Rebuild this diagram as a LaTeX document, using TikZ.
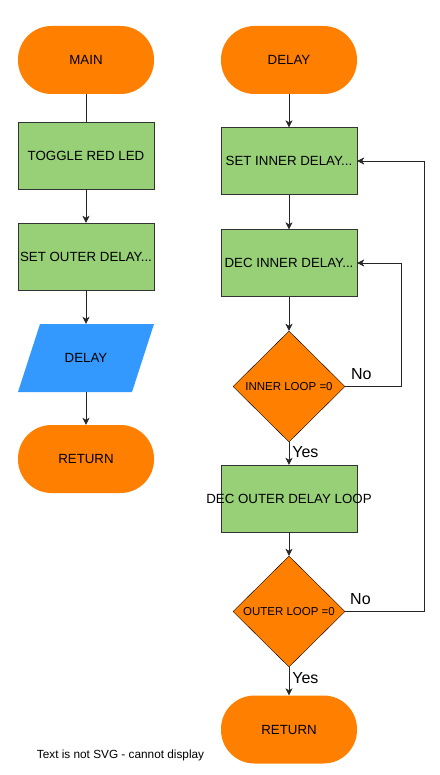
\documentclass[tikz,border=0pt]{standalone}
\usepackage{fontspec}
\setmainfont{Liberation Sans}
\usetikzlibrary{shapes.geometric, arrows.meta, positioning}
\newcommand{\spill}[1]{\makebox[0pt]{#1}}

\begin{document}
\begin{tikzpicture}[x=1pt, y=-1pt,
        terminal/.style={
                rectangle,
                rounded corners=33.5pt,
                fill=termorange,
                minimum width=136pt,
                minimum height=68pt,
                font=\fontsize{13.3}{15}\selectfont,
        },
        process/.style={
                rectangle,
                draw=black!80,
                fill=procgreen,
                minimum width=136pt,
                minimum height=67pt,
                font=\fontsize{13.3}{15}\selectfont,
        },
        iobox/.style={
                rectangle,
                minimum width=136pt,
                minimum height=68pt,
                inner sep=0pt,
                font=\fontsize{13.3}{15}\selectfont,
                path picture={
                    \fill[iblue] (path picture bounding box.south west)
                        -- ([xshift=-22pt]path picture bounding box.south east)
                        -- (path picture bounding box.north east)
                        -- ([xshift=22pt]path picture bounding box.north west) -- cycle;
                },
        },
        decision/.style={
                diamond,
                draw=black,
                fill=termorange,
                minimum width=112pt,
                minimum height=111pt,
                inner sep=0pt,
                font=\fontsize{11.5}{13}\selectfont,
        },
        flow/.style={draw=black!85, line width=0.6pt, -{Stealth[length=7pt, width=7pt, inset=2pt]}},
        lbl/.style={font=\fontsize{16}{18}\selectfont, inner sep=0pt},
        ]
            \definecolor{termorange}{HTML}{FF8000}
            \definecolor{procgreen}{HTML}{97D077}
            \definecolor{iblue}{HTML}{3399FF}
            \useasboundingbox (0, 0) rectangle (439, 775);

            % main routine
            \node[terminal] (main) at (86, 60) {MAIN};
            \node[process] (toggle) at (86, 155.5) {TOGGLE RED LED};
            \node[process] (setouter) at (86, 256.5) {\spill{SET OUTER DELAY...}};
            \node[iobox] (calldelay) at (86, 358) {DELAY};
            \node[terminal] (retmain) at (86, 459) {RETURN};

            % delay routine
            \node[terminal] (delay) at (289, 60) {DELAY};
            \node[process] (setinner) at (289, 161) {SET INNER DELAY...};
            \node[process] (decinner) at (289, 263) {\spill{DEC INNER DELAY...}};
            \node[decision] (innerloop) at (289, 386.5) {INNER LOOP =0};
            \node[process] (decouter) at (289, 498.5) {\spill{DEC OUTER DELAY LOOP}};
            \node[decision] (outerloop) at (289, 611.5) {OUTER LOOP =0};
            \node[terminal] (retdelay) at (289, 729.5) {RETURN};

            \node[font=\fontsize{11.8}{13}\selectfont, inner sep=0pt] (nosvg) at (120.5, 755) {Text is not SVG - cannot display};

            \draw[draw=black!85, line width=0.6pt] (main) -- (toggle);
            \draw[flow] (toggle) -- (setouter);
            \draw[flow] (setouter) -- (calldelay);
            \draw[flow] (calldelay) -- (retmain);

            \draw[flow] (delay) -- (setinner);
            \draw[flow] (setinner) -- (decinner);
            \draw[flow] (decinner) -- (innerloop);
            \draw[flow] (innerloop) -- node[lbl, anchor=west, pos=0.42, xshift=3pt] {Yes} (decouter);
            \draw[flow] (decouter) -- (outerloop);
            \draw[flow] (outerloop) -- node[lbl, anchor=west, pos=0.4, xshift=3pt] {Yes} (retdelay);

            % loops back
            \draw[flow] (innerloop.east) -- node[lbl, pos=0.1, anchor=south west, yshift=6.5pt] {No} +(56, 0) |- (decinner.east);
            \draw[flow] (outerloop.east) -- node[lbl, pos=0.06, anchor=south west, yshift=6.5pt] {No} +(79, 0) |- (setinner.east);
        \end{tikzpicture}
\end{document}
